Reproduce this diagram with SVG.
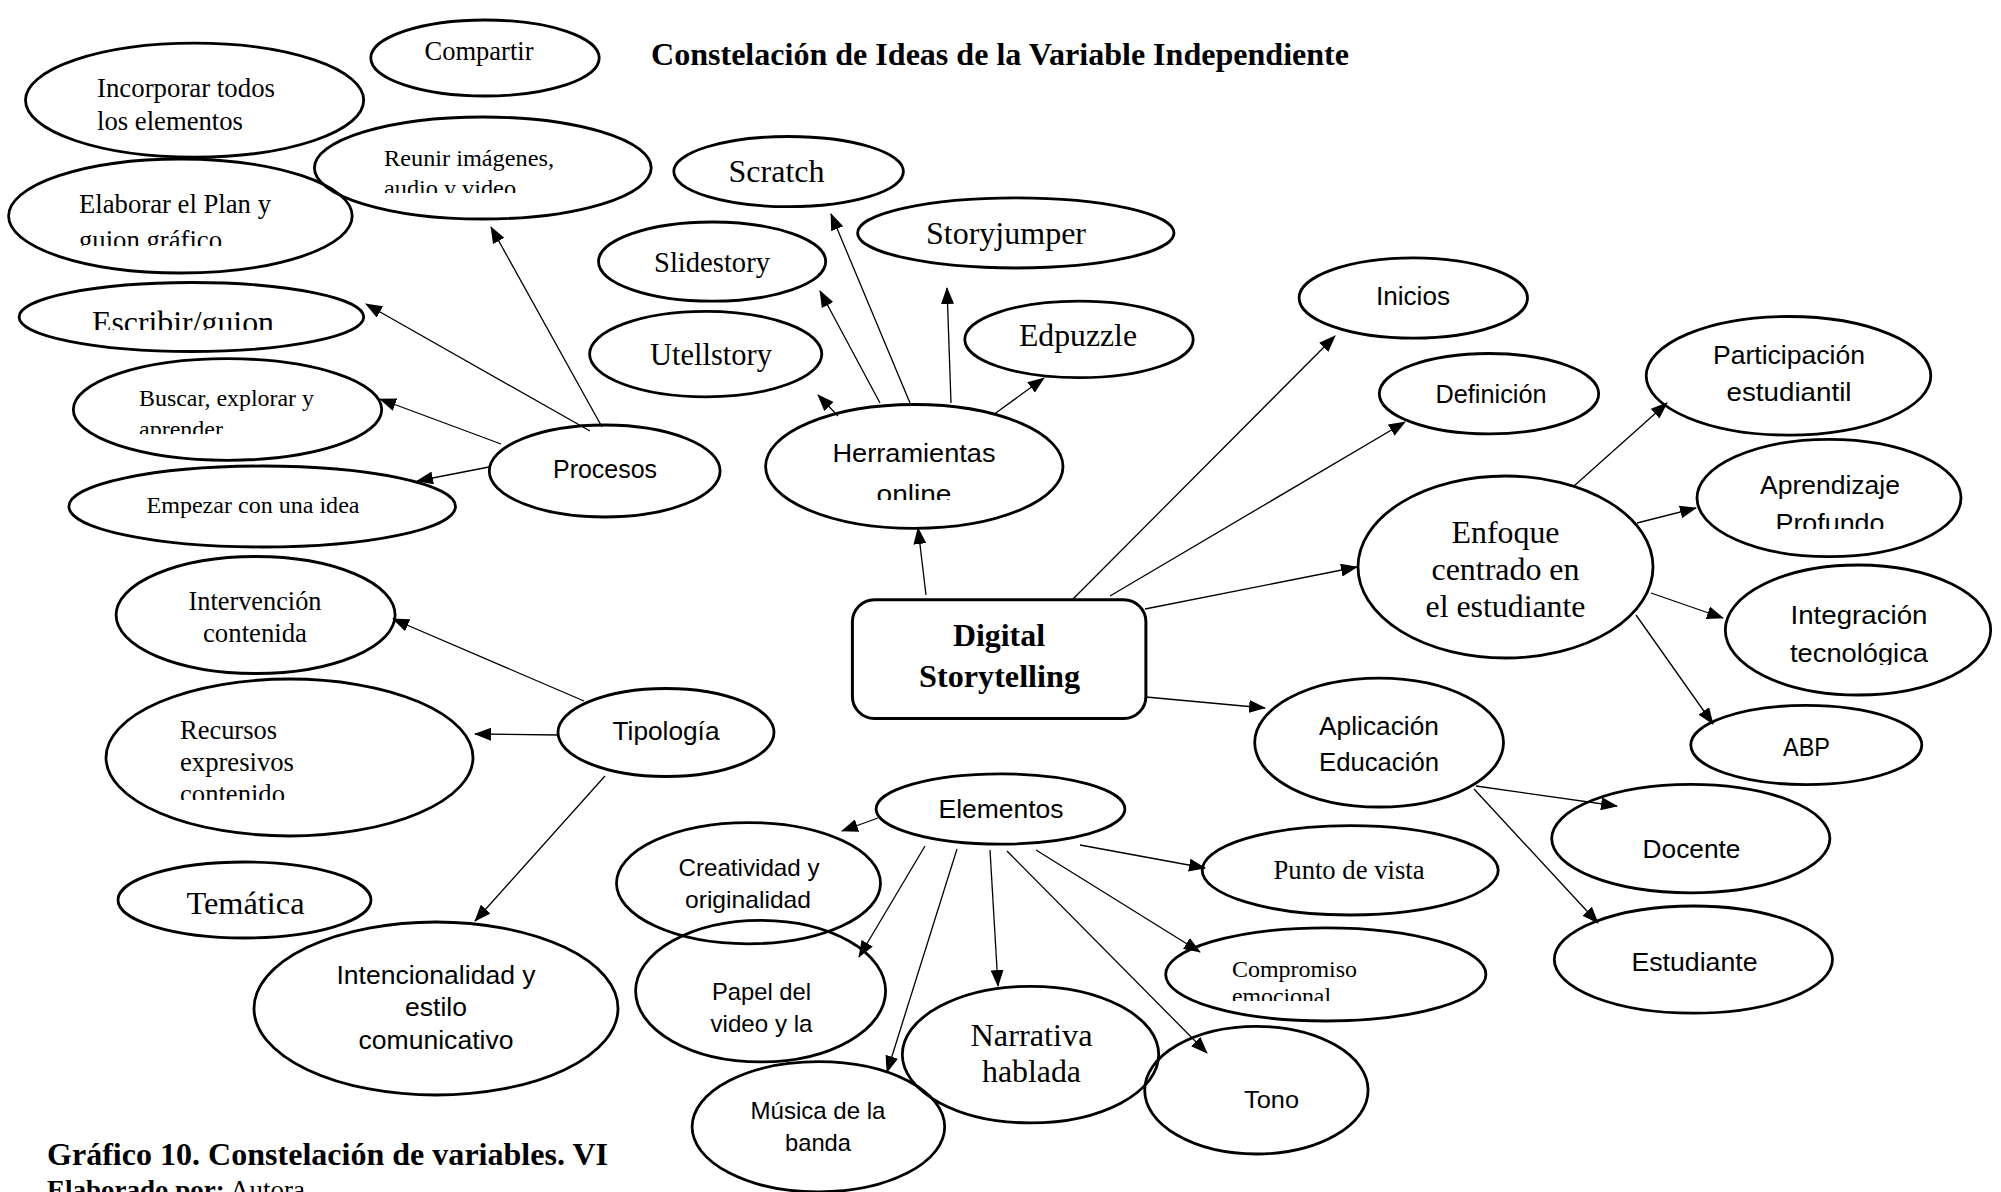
<svg xmlns="http://www.w3.org/2000/svg" width="2001" height="1192" viewBox="0 0 2001 1192">
<style>
  .n ellipse { fill: none; stroke: #000; stroke-width: 2.8; }
  .n rect { fill: #fff; stroke: #000; stroke-width: 3; }
  text { fill: #000; }
  .s { font-family: "Liberation Serif", "Times New Roman", serif; }
  .a { font-family: "Liberation Sans", Arial, sans-serif; }
  .b { font-weight: bold; }
  .m { text-anchor: middle; }
  #edges line { stroke: #000; stroke-width: 1.3; marker-end: url(#ah); }
</style>
<defs>
  <marker id="ah" markerWidth="17" markerHeight="13" refX="16" refY="6.5" orient="auto" markerUnits="userSpaceOnUse">
    <path d="M0,0 L17,6.5 L0,13 z" fill="#000"/>
  </marker>
  <!-- lines whose lower part is hidden by the text frame -->
  <clipPath id="cut193"><rect x="0" y="0" width="2001" height="193"/></clipPath>
  <clipPath id="cut246"><rect x="0" y="0" width="2001" height="246"/></clipPath>
  <clipPath id="cut330"><rect x="0" y="0" width="2001" height="330"/></clipPath>
  <clipPath id="cut434"><rect x="0" y="0" width="2001" height="434"/></clipPath>
  <clipPath id="cut500"><rect x="0" y="0" width="2001" height="500"/></clipPath>
  <clipPath id="cut529"><rect x="0" y="0" width="2001" height="529"/></clipPath>
  <clipPath id="cut665"><rect x="0" y="0" width="2001" height="665"/></clipPath>
  <clipPath id="cut800"><rect x="0" y="0" width="2001" height="800"/></clipPath>
  <clipPath id="cut1001"><rect x="0" y="0" width="2001" height="1001"/></clipPath>
</defs>
<rect x="0" y="0" width="2001" height="1192" fill="#fff"/>

<!-- heading and caption -->
<text class="s b" x="651" y="65" font-size="32" textLength="698" lengthAdjust="spacingAndGlyphs">Constelación de Ideas de la Variable Independiente</text>
<text class="s b" x="47" y="1165" font-size="31" textLength="561" lengthAdjust="spacingAndGlyphs">Gráfico 10. Constelación de variables. VI</text>
<text class="s" x="47" y="1199" font-size="27"><tspan font-weight="bold">Elaborado por:</tspan> Autora</text>

<!-- connectors -->
<g id="edges">
  <!-- Procesos -->
  <line x1="602" y1="427" x2="491" y2="227"/>
  <line x1="590" y1="431" x2="366" y2="304"/>
  <line x1="501" y1="444" x2="380" y2="399"/>
  <line x1="489" y1="467" x2="417" y2="481"/>
  <!-- Herramientas online -->
  <line x1="838" y1="416" x2="818" y2="395"/>
  <line x1="880" y1="403" x2="820" y2="291"/>
  <line x1="910" y1="403" x2="831" y2="214"/>
  <line x1="951" y1="403" x2="947" y2="288"/>
  <line x1="993" y1="415" x2="1044" y2="378"/>
  <!-- Digital Storytelling -->
  <line x1="926" y1="595" x2="918" y2="528"/>
  <line x1="1072" y1="600" x2="1335" y2="336"/>
  <line x1="1110" y1="596" x2="1405" y2="422"/>
  <line x1="1145" y1="609" x2="1357" y2="567"/>
  <line x1="1146" y1="697" x2="1265" y2="708"/>
  <!-- Enfoque centrado en el estudiante -->
  <line x1="1574" y1="486" x2="1667" y2="403"/>
  <line x1="1637" y1="523" x2="1696" y2="508"/>
  <line x1="1651" y1="593" x2="1723" y2="618"/>
  <line x1="1636" y1="615" x2="1713" y2="724"/>
  <!-- Aplicación Educación -->
  <line x1="1476" y1="786" x2="1617" y2="806"/>
  <line x1="1474" y1="789" x2="1598" y2="923"/>
  <!-- Tipología -->
  <line x1="584" y1="701" x2="393" y2="619"/>
  <line x1="559" y1="735" x2="475" y2="734"/>
  <line x1="605" y1="776" x2="475" y2="921"/>
  <!-- Elementos -->
  <line x1="878" y1="818" x2="842" y2="831"/>
  <line x1="925" y1="846" x2="859" y2="957"/>
  <line x1="957" y1="849" x2="887" y2="1072"/>
  <line x1="990" y1="850" x2="998" y2="986"/>
  <line x1="1007" y1="851" x2="1207" y2="1053"/>
  <line x1="1036" y1="850" x2="1200" y2="952"/>
  <line x1="1080" y1="845" x2="1205" y2="868"/>
</g>

<!-- Procesos branch -->
<g id="compartir" class="n">
  <ellipse cx="485" cy="58" rx="114.2" ry="38"/>
  <text class="s m" x="479" y="60" font-size="26.5" textLength="109" lengthAdjust="spacingAndGlyphs">Compartir</text>
</g>
<g id="incorporar" class="n">
  <ellipse cx="194.6" cy="100.2" rx="169.1" ry="57"/>
  <text class="s" x="97" y="97" font-size="27" textLength="178" lengthAdjust="spacingAndGlyphs">Incorporar todos</text>
  <text class="s" x="97" y="130" font-size="27" textLength="146" lengthAdjust="spacingAndGlyphs">los elementos</text>
</g>
<g id="reunir" class="n">
  <ellipse cx="482.8" cy="168" rx="168.4" ry="51"/>
  <text class="s" x="384" y="166" font-size="24" textLength="170" lengthAdjust="spacingAndGlyphs">Reunir imágenes,</text>
  <text class="s" x="384" y="196" font-size="24" textLength="132" lengthAdjust="spacingAndGlyphs" clip-path="url(#cut193)">audio y video</text>
</g>
<g id="elaborar" class="n">
  <ellipse cx="180.4" cy="216" rx="171.8" ry="57"/>
  <text class="s" x="79" y="213" font-size="27" textLength="192" lengthAdjust="spacingAndGlyphs">Elaborar el Plan y</text>
  <text class="s" x="79" y="249" font-size="27" textLength="143" lengthAdjust="spacingAndGlyphs" clip-path="url(#cut246)">guion gráfico</text>
</g>
<g id="escribir" class="n">
  <ellipse cx="191.4" cy="317" rx="172.3" ry="34.5"/>
  <text class="s" x="92" y="333" font-size="32" textLength="182" lengthAdjust="spacingAndGlyphs" clip-path="url(#cut330)">Escribir/guion</text>
</g>
<g id="buscar" class="n">
  <ellipse cx="227.5" cy="409.5" rx="154.2" ry="50.8"/>
  <text class="s" x="139" y="406" font-size="24" textLength="175" lengthAdjust="spacingAndGlyphs">Buscar, explorar y</text>
  <text class="s" x="139" y="437" font-size="24" textLength="84" lengthAdjust="spacingAndGlyphs" clip-path="url(#cut434)">aprender</text>
</g>
<g id="empezar" class="n">
  <ellipse cx="262.2" cy="506.5" rx="193.3" ry="40.5"/>
  <text class="s m" x="253" y="513" font-size="24" textLength="213" lengthAdjust="spacingAndGlyphs">Empezar con una idea</text>
</g>
<g id="procesos" class="n">
  <ellipse cx="604.7" cy="471" rx="115.4" ry="46"/>
  <text class="a m" x="605" y="478" font-size="26" textLength="104" lengthAdjust="spacingAndGlyphs">Procesos</text>
</g>

<!-- Herramientas branch -->
<g id="scratch" class="n">
  <ellipse cx="788.6" cy="171.6" rx="114.8" ry="35.1"/>
  <text class="s m" x="776.5" y="182" font-size="32" textLength="96" lengthAdjust="spacingAndGlyphs">Scratch</text>
</g>
<g id="storyjumper" class="n">
  <ellipse cx="1015.8" cy="232.9" rx="158.2" ry="35.1"/>
  <text class="s m" x="1006" y="244" font-size="32" textLength="160" lengthAdjust="spacingAndGlyphs">Storyjumper</text>
</g>
<g id="slidestory" class="n">
  <ellipse cx="712.1" cy="261.6" rx="113.6" ry="39.6"/>
  <text class="s m" x="712" y="272" font-size="29" textLength="116" lengthAdjust="spacingAndGlyphs">Slidestory</text>
</g>
<g id="utellstory" class="n">
  <ellipse cx="705.7" cy="354.1" rx="116.1" ry="42.7"/>
  <text class="s m" x="711" y="365" font-size="31" textLength="122" lengthAdjust="spacingAndGlyphs">Utellstory</text>
</g>
<g id="edpuzzle" class="n">
  <ellipse cx="1079" cy="339.4" rx="114.2" ry="38.3"/>
  <text class="s m" x="1078" y="346" font-size="31.5" textLength="118" lengthAdjust="spacingAndGlyphs">Edpuzzle</text>
</g>
<g id="herramientas" class="n">
  <ellipse cx="914.3" cy="466.4" rx="148.7" ry="61.9"/>
  <text class="a m" x="914" y="462" font-size="26" textLength="163" lengthAdjust="spacingAndGlyphs">Herramientas</text>
  <text class="a m" x="914" y="503" font-size="26" textLength="75" lengthAdjust="spacingAndGlyphs" clip-path="url(#cut500)">online</text>
</g>

<!-- central node -->
<g id="digital-storytelling" class="n">
  <rect x="852.4" y="599.8" width="293.5" height="118.7" rx="22"/>
  <text class="s b m" x="999" y="646" font-size="32" textLength="92" lengthAdjust="spacingAndGlyphs">Digital</text>
  <text class="s b m" x="999.5" y="687" font-size="32" textLength="161" lengthAdjust="spacingAndGlyphs">Storytelling</text>
</g>

<!-- right side -->
<g id="inicios" class="n">
  <ellipse cx="1413.3" cy="298" rx="114.2" ry="40.2"/>
  <text class="a m" x="1413" y="305" font-size="26" textLength="74" lengthAdjust="spacingAndGlyphs">Inicios</text>
</g>
<g id="definicion" class="n">
  <ellipse cx="1489" cy="393.7" rx="109.7" ry="40.2"/>
  <text class="a m" x="1491" y="403" font-size="25" textLength="111" lengthAdjust="spacingAndGlyphs">Definición</text>
</g>
<g id="enfoque" class="n">
  <ellipse cx="1505.5" cy="567" rx="147.5" ry="91"/>
  <text class="s m" x="1505.5" y="543" font-size="32" textLength="108" lengthAdjust="spacingAndGlyphs">Enfoque</text>
  <text class="s m" x="1505.5" y="580" font-size="32" textLength="148" lengthAdjust="spacingAndGlyphs">centrado en</text>
  <text class="s m" x="1505.5" y="617" font-size="32" textLength="160" lengthAdjust="spacingAndGlyphs">el estudiante</text>
</g>
<g id="participacion" class="n">
  <ellipse cx="1788.5" cy="375.8" rx="142.3" ry="59.3"/>
  <text class="a m" x="1789" y="364" font-size="26" textLength="152" lengthAdjust="spacingAndGlyphs">Participación</text>
  <text class="a m" x="1789" y="401" font-size="26" textLength="125" lengthAdjust="spacingAndGlyphs">estudiantil</text>
</g>
<g id="aprendizaje" class="n">
  <ellipse cx="1829" cy="498" rx="132" ry="58.7"/>
  <text class="a m" x="1830" y="494" font-size="26" textLength="140" lengthAdjust="spacingAndGlyphs">Aprendizaje</text>
  <text class="a m" x="1830" y="532" font-size="26" textLength="109" lengthAdjust="spacingAndGlyphs" clip-path="url(#cut529)">Profundo</text>
</g>
<g id="integracion" class="n">
  <ellipse cx="1858" cy="630" rx="132.7" ry="65"/>
  <text class="a m" x="1859" y="624" font-size="26" textLength="137" lengthAdjust="spacingAndGlyphs">Integración</text>
  <text class="a m" x="1859" y="662" font-size="26" textLength="138" lengthAdjust="spacingAndGlyphs" clip-path="url(#cut665)">tecnológica</text>
</g>
<g id="abp" class="n">
  <ellipse cx="1806.3" cy="745" rx="115.5" ry="39.6"/>
  <text class="a m" x="1806.5" y="756" font-size="26" textLength="47" lengthAdjust="spacingAndGlyphs">ABP</text>
</g>
<g id="aplicacion" class="n">
  <ellipse cx="1379.1" cy="742.6" rx="124.4" ry="64.4"/>
  <text class="a m" x="1379" y="735" font-size="26" textLength="120" lengthAdjust="spacingAndGlyphs">Aplicación</text>
  <text class="a m" x="1379" y="771" font-size="26" textLength="120" lengthAdjust="spacingAndGlyphs">Educación</text>
</g>
<g id="docente" class="n">
  <ellipse cx="1690.8" cy="838.6" rx="139.1" ry="54.2"/>
  <text class="a m" x="1691.5" y="858" font-size="26" textLength="98" lengthAdjust="spacingAndGlyphs">Docente</text>
</g>
<g id="estudiante" class="n">
  <ellipse cx="1693.4" cy="959.6" rx="139.1" ry="53.6"/>
  <text class="a m" x="1694.5" y="971" font-size="26" textLength="126" lengthAdjust="spacingAndGlyphs">Estudiante</text>
</g>

<!-- Tipología branch -->
<g id="intervencion" class="n">
  <ellipse cx="255.6" cy="615" rx="139.5" ry="58.5"/>
  <text class="s m" x="255" y="610" font-size="26.5" textLength="133" lengthAdjust="spacingAndGlyphs">Intervención</text>
  <text class="s m" x="255" y="642" font-size="26.5" textLength="104" lengthAdjust="spacingAndGlyphs">contenida</text>
</g>
<g id="recursos" class="n">
  <ellipse cx="289.5" cy="757.5" rx="183.5" ry="78.5"/>
  <text class="s" x="180" y="739" font-size="26.5" textLength="97" lengthAdjust="spacingAndGlyphs">Recursos</text>
  <text class="s" x="180" y="771" font-size="26.5" textLength="114" lengthAdjust="spacingAndGlyphs">expresivos</text>
  <text class="s" x="180" y="803" font-size="26.5" textLength="105" lengthAdjust="spacingAndGlyphs" clip-path="url(#cut800)">contenido</text>
</g>
<g id="tipologia" class="n">
  <ellipse cx="666" cy="732.5" rx="108" ry="44"/>
  <text class="a m" x="666" y="740" font-size="26" textLength="107" lengthAdjust="spacingAndGlyphs">Tipología</text>
</g>
<g id="tematica" class="n">
  <ellipse cx="244.5" cy="900" rx="126.5" ry="38"/>
  <text class="s m" x="245.5" y="914" font-size="32" textLength="118" lengthAdjust="spacingAndGlyphs">Temática</text>
</g>
<g id="intencionalidad" class="n">
  <ellipse cx="436" cy="1008.5" rx="182" ry="86.5"/>
  <text class="a m" x="436" y="984" font-size="25.5" textLength="199" lengthAdjust="spacingAndGlyphs">Intencionalidad y</text>
  <text class="a m" x="436" y="1016" font-size="25.5" textLength="62" lengthAdjust="spacingAndGlyphs">estilo</text>
  <text class="a m" x="436" y="1049" font-size="25.5" textLength="155" lengthAdjust="spacingAndGlyphs">comunicativo</text>
</g>

<!-- Elementos branch -->
<g id="elementos" class="n">
  <ellipse cx="1000.5" cy="809" rx="124.4" ry="35.1"/>
  <text class="a m" x="1001" y="818" font-size="26" textLength="125" lengthAdjust="spacingAndGlyphs">Elementos</text>
</g>
<g id="creatividad" class="n">
  <ellipse cx="748.5" cy="883.2" rx="132" ry="60.6"/>
  <text class="a m" x="749" y="876" font-size="24" textLength="141" lengthAdjust="spacingAndGlyphs">Creatividad y</text>
  <text class="a m" x="748" y="908" font-size="24" textLength="126" lengthAdjust="spacingAndGlyphs">originalidad</text>
</g>
<g id="punto-de-vista" class="n">
  <ellipse cx="1350.2" cy="870.3" rx="148" ry="44.7"/>
  <text class="s m" x="1349" y="879" font-size="26.5" textLength="151" lengthAdjust="spacingAndGlyphs">Punto de vista</text>
</g>
<g id="papel" class="n">
  <ellipse cx="760.6" cy="991.1" rx="125" ry="70.8"/>
  <text class="a m" x="761.5" y="1000" font-size="24" textLength="99" lengthAdjust="spacingAndGlyphs">Papel del</text>
  <text class="a m" x="761.5" y="1032" font-size="24" textLength="102" lengthAdjust="spacingAndGlyphs">video y la</text>
</g>
<g id="compromiso" class="n">
  <ellipse cx="1325.8" cy="974.4" rx="160.1" ry="46.6"/>
  <text class="s" x="1232" y="977" font-size="24" textLength="125" lengthAdjust="spacingAndGlyphs">Compromiso</text>
  <text class="s" x="1232" y="1004" font-size="24" textLength="99" lengthAdjust="spacingAndGlyphs" clip-path="url(#cut1001)">emocional</text>
</g>
<g id="narrativa" class="n">
  <ellipse cx="1030.5" cy="1054.6" rx="128.2" ry="68.3"/>
  <text class="s m" x="1031.5" y="1046" font-size="32" textLength="122" lengthAdjust="spacingAndGlyphs">Narrativa</text>
  <text class="s m" x="1031.5" y="1082" font-size="32" textLength="99" lengthAdjust="spacingAndGlyphs">hablada</text>
</g>
<g id="tono" class="n">
  <ellipse cx="1256.4" cy="1090.2" rx="111.7" ry="63.8"/>
  <text class="a m" x="1271.5" y="1108" font-size="24" textLength="55" lengthAdjust="spacingAndGlyphs">Tono</text>
</g>
<g id="musica" class="n">
  <ellipse cx="818.4" cy="1126.8" rx="126.3" ry="65.1"/>
  <text class="a m" x="818" y="1119" font-size="24" textLength="135" lengthAdjust="spacingAndGlyphs">Música de la</text>
  <text class="a m" x="818" y="1151" font-size="24" textLength="66" lengthAdjust="spacingAndGlyphs">banda</text>
</g>
</svg>
